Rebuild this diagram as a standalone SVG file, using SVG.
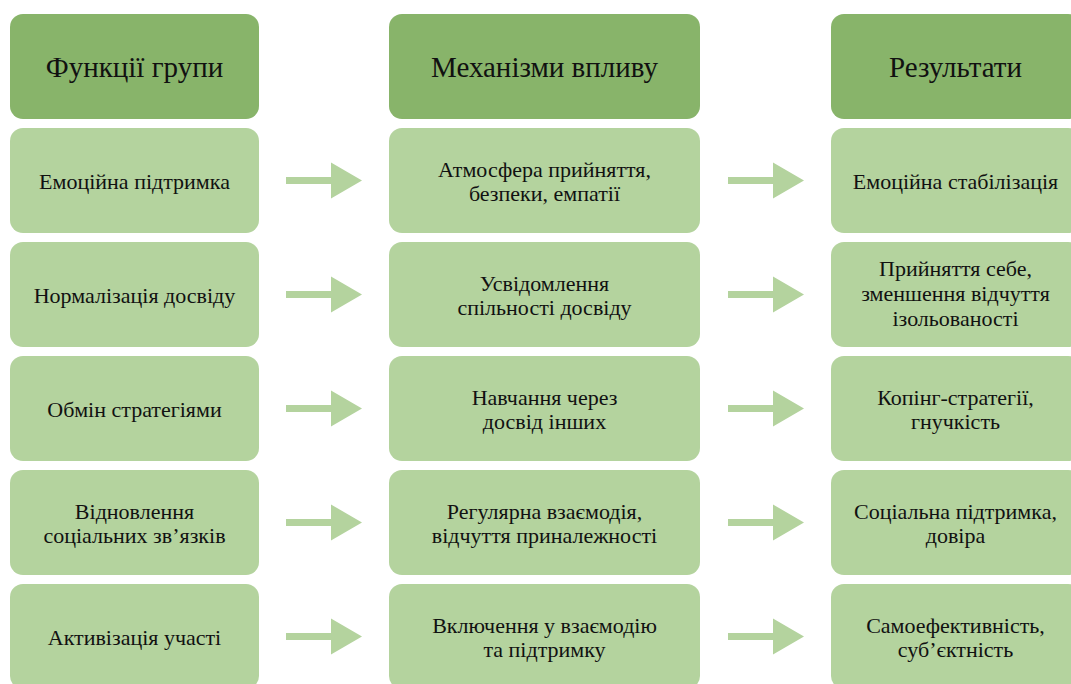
<svg xmlns="http://www.w3.org/2000/svg" width="1071" height="684" viewBox="0 0 1071 684">
<style>
.hd{fill:#88b46a}
.bx{fill:#b4d39e}
.ar{fill:#b4d39e}
.tx text{fill:#111;text-anchor:middle;font-family:"Liberation Serif","Times New Roman","DejaVu Serif",serif}
.ht{font-size:29px}
.t{font-size:22px}
</style>
<defs>
<polygon id="arr" points="0,-3.5 45,-3.5 45,-18 76,0 45,18 45,3.5 0,3.5"/>
</defs>
<rect width="1071" height="684" fill="#fff"/>
<g class="tx">
<g id="h1"><rect class="hd" x="10" y="14" width="249" height="105" rx="13"/><text class="ht" x="134.5" y="77">Функції групи</text></g>
<g id="h2"><rect class="hd" x="389" y="14" width="311" height="105" rx="13"/><text class="ht" x="544.5" y="77">Механізми впливу</text></g>
<g id="h3"><rect class="hd" x="831" y="14" width="250" height="105" rx="13"/><text class="ht" x="955.5" y="77">Результати</text></g>

<g id="a1"><rect class="bx" x="10" y="128" width="249" height="105" rx="13"/><text class="t" x="134.5" y="189">Емоційна підтримка</text></g>
<g id="b1"><rect class="bx" x="389" y="128" width="311" height="105" rx="13"/><text class="t" x="544.5" y="177">Атмосфера прийняття,</text><text class="t" x="544.5" y="201">безпеки, емпатії</text></g>
<g id="c1"><rect class="bx" x="831" y="128" width="250" height="105" rx="13"/><text class="t" x="955.5" y="189">Емоційна стабілізація</text></g>

<g id="a2"><rect class="bx" x="10" y="242" width="249" height="105" rx="13"/><text class="t" x="134.5" y="303">Нормалізація досвіду</text></g>
<g id="b2"><rect class="bx" x="389" y="242" width="311" height="105" rx="13"/><text class="t" x="544.5" y="291">Усвідомлення</text><text class="t" x="544.5" y="315">спільності досвіду</text></g>
<g id="c2"><rect class="bx" x="831" y="242" width="250" height="105" rx="13"/><text class="t" x="955.5" y="276">Прийняття себе,</text><text class="t" x="955.5" y="301">зменшення відчуття</text><text class="t" x="955.5" y="326">ізольованості</text></g>

<g id="a3"><rect class="bx" x="10" y="356" width="249" height="105" rx="13"/><text class="t" x="134.5" y="417">Обмін стратегіями</text></g>
<g id="b3"><rect class="bx" x="389" y="356" width="311" height="105" rx="13"/><text class="t" x="544.5" y="405">Навчання через</text><text class="t" x="544.5" y="429">досвід інших</text></g>
<g id="c3"><rect class="bx" x="831" y="356" width="250" height="105" rx="13"/><text class="t" x="955.5" y="405">Копінг-стратегії,</text><text class="t" x="955.5" y="429">гнучкість</text></g>

<g id="a4"><rect class="bx" x="10" y="470" width="249" height="105" rx="13"/><text class="t" x="134.5" y="519">Відновлення</text><text class="t" x="134.5" y="543">соціальних зв’язків</text></g>
<g id="b4"><rect class="bx" x="389" y="470" width="311" height="105" rx="13"/><text class="t" x="544.5" y="519">Регулярна взаємодія,</text><text class="t" x="544.5" y="543">відчуття приналежності</text></g>
<g id="c4"><rect class="bx" x="831" y="470" width="250" height="105" rx="13"/><text class="t" x="955.5" y="519">Соціальна підтримка,</text><text class="t" x="955.5" y="543">довіра</text></g>

<g id="a5"><rect class="bx" x="10" y="584" width="249" height="105" rx="13"/><text class="t" x="134.5" y="645">Активізація участі</text></g>
<g id="b5"><rect class="bx" x="389" y="584" width="311" height="105" rx="13"/><text class="t" x="544.5" y="633">Включення у взаємодію</text><text class="t" x="544.5" y="657">та підтримку</text></g>
<g id="c5"><rect class="bx" x="831" y="584" width="250" height="105" rx="13"/><text class="t" x="955.5" y="633">Самоефективність,</text><text class="t" x="955.5" y="657">суб’єктність</text></g>
</g>
<g id="connectors" class="ar">
<use href="#arr" x="286" y="180.5"/><use href="#arr" x="728" y="180.5"/>
<use href="#arr" x="286" y="294.5"/><use href="#arr" x="728" y="294.5"/>
<use href="#arr" x="286" y="408.5"/><use href="#arr" x="728" y="408.5"/>
<use href="#arr" x="286" y="522.5"/><use href="#arr" x="728" y="522.5"/>
<use href="#arr" x="286" y="636.5"/><use href="#arr" x="728" y="636.5"/>
</g>
</svg>
